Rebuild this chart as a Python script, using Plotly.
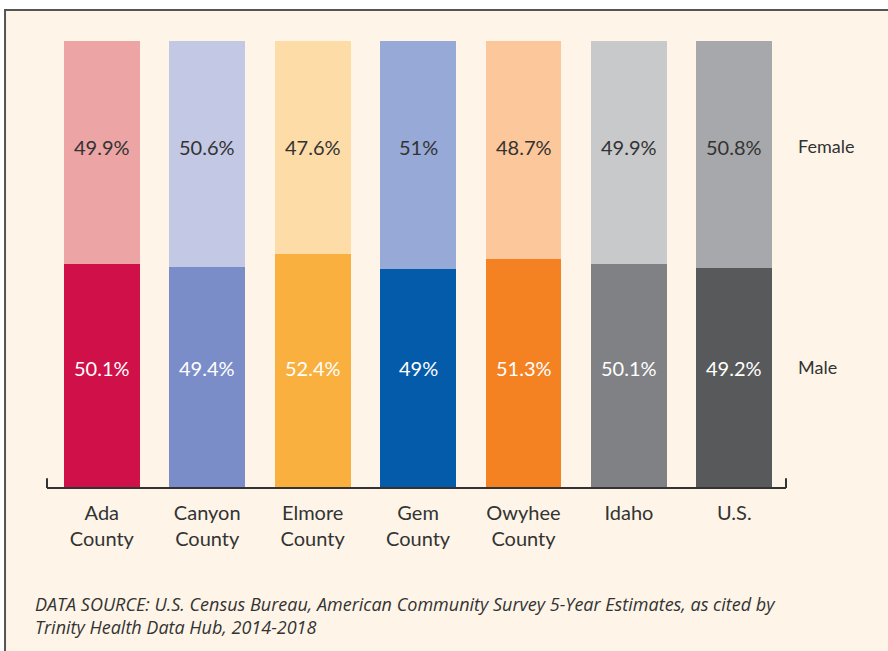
import plotly.graph_objects as go

categories = ["Ada<br>County", "Canyon<br>County", "Elmore<br>County", "Gem<br>County",
              "Owyhee<br>County", "Idaho", "U.S."]
male = [50.1, 49.4, 52.4, 49.0, 51.3, 50.1, 49.2]
female = [49.9, 50.6, 47.6, 51.0, 48.7, 49.9, 50.8]
male_labels = ["50.1%", "49.4%", "52.4%", "49%", "51.3%", "50.1%", "49.2%"]
female_labels = ["49.9%", "50.6%", "47.6%", "51%", "48.7%", "49.9%", "50.8%"]
male_colors = ["#D01048", "#7A8DC8", "#F9B03E", "#035BA9", "#F48222", "#808184", "#58595B"]
female_colors = ["#ECA4A4", "#C3C9E5", "#FEDCA8", "#97A9D6", "#FCC79A", "#C8C9CB", "#A7A8AB"]

FONT = "Lato"
TXT = "#333333"
BG = "#FEF5E8"

fig = go.Figure()
fig.add_trace(go.Bar(x=categories, y=male, marker=dict(color=male_colors, line=dict(width=0)),
                     width=0.72, hoverinfo="skip", name="Male"))
fig.add_trace(go.Bar(x=categories, y=female, marker=dict(color=female_colors, line=dict(width=0)),
                     width=0.72, hoverinfo="skip", name="Female"))

annotations = []
for c, ml, fl in zip(categories, male_labels, female_labels):
    annotations.append(dict(x=c, y=26.8, text=ml, showarrow=False, xref="x", yref="y",
                            font=dict(family=FONT, size=20, color="white")))
    annotations.append(dict(x=c, y=76.3, text=fl, showarrow=False, xref="x", yref="y",
                            font=dict(family=FONT, size=20, color=TXT)))
annotations.append(dict(x=1.0135, y=76.5, xref="paper", yref="y", text="Female", showarrow=False,
                        xanchor="left", font=dict(family=FONT, size=18, color=TXT)))
annotations.append(dict(x=1.0135, y=27.0, xref="paper", yref="y", text="Male", showarrow=False,
                        xanchor="left", font=dict(family=FONT, size=18, color=TXT)))
annotations.append(dict(x=-0.019, y=-0.229, xref="paper", yref="paper", xanchor="left", yanchor="top",
                        align="left", showarrow=False,
                        text="<i>DATA SOURCE: U.S. Census Bureau, American Community Survey 5-Year Estimates, as cited by<br>Trinity Health Data Hub, 2014-2018</i>",
                        font=dict(family="Open Sans", size=18, color=TXT)))

shapes = [
    # frame
    dict(type="rect", xref="paper", yref="paper", x0=-0.0568, x1=1.3, y0=-0.5, y1=1.0694,
         fillcolor=BG, line=dict(color="#555555", width=2), layer="below"),
    # axis bracket
    dict(type="line", xref="paper", yref="paper", x0=0, x1=1, y0=0, y1=0,
         line=dict(color="#333333", width=2)),
    dict(type="line", xref="paper", yref="paper", x0=0, x1=0, y0=0, y1=0.022,
         line=dict(color="#333333", width=2)),
    dict(type="line", xref="paper", yref="paper", x0=1, x1=1, y0=0, y1=0.022,
         line=dict(color="#333333", width=2)),
]

fig.update_layout(
    width=888, height=651,
    margin=dict(l=47, r=102, t=41, b=163),
    paper_bgcolor="white", plot_bgcolor="rgba(0,0,0,0)",
    barmode="stack", bargap=0.28, showlegend=False,
    annotations=annotations, shapes=shapes,
    font=dict(family=FONT, color=TXT),
    xaxis=dict(range=[-0.52, 6.49], showgrid=False, zeroline=False, showline=False,
               ticks="", tickfont=dict(family=FONT, size=20, color=TXT), ticklabelstandoff=11),
    yaxis=dict(range=[0, 100], visible=False, fixedrange=True),
)

fig.write_html("out.html", config={"displayModeBar": False},
               post_script="document.body.style.margin='0';")
